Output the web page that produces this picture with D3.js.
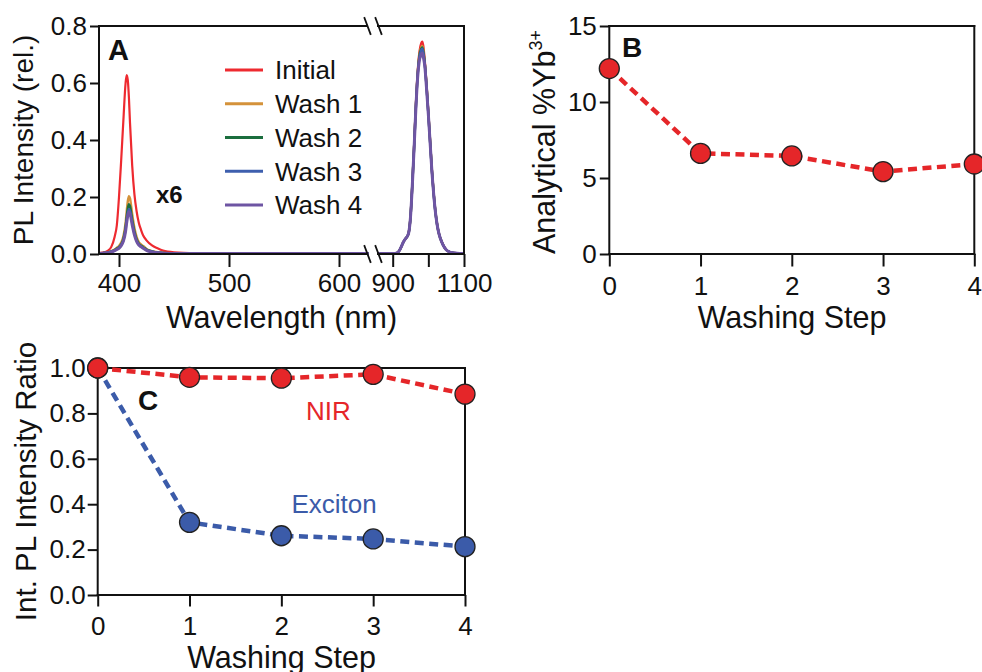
<!DOCTYPE html>
<html>
<head>
<meta charset="utf-8">
<script src="https://cdn.jsdelivr.net/npm/d3@7"></script>
<style>
  html, body { margin: 0; padding: 0; background: #fff; }
  svg { display: block; font-family: "Liberation Sans", Arial, sans-serif; }
  .tick text { font-size: 26px; fill: #111; }
</style>
</head>
<body>
<svg id="chart" width="982" height="672"></svg>
<script>
// ---------------- DATA ----------------
const seriesNames = ["Initial", "Wash 1", "Wash 2", "Wash 3", "Wash 4"];
const seriesColors = ["#ee2a30", "#d4923a", "#1b6e3e", "#3e5fae", "#6e55a3"];

// Panel A, visible band (wavelength in nm)
const wlVis = [382, 385, 390, 393, 396, 398, 400, 402, 404, 406, 407, 408, 409, 410, 412, 414, 416, 418, 420, 422, 425, 430, 435, 440, 450, 470, 500, 550, 600, 627];
const visInitial = [0.003, 0.005, 0.012, 0.025, 0.06, 0.10, 0.20, 0.33, 0.47, 0.60, 0.628, 0.61, 0.55, 0.46, 0.31, 0.21, 0.15, 0.11, 0.085, 0.065, 0.048, 0.03, 0.02, 0.012, 0.006, 0.003, 0.002, 0.002, 0.002, 0.002];
const visWash1 = [0.002, 0.003, 0.006, 0.010, 0.016, 0.022, 0.028, 0.040, 0.062, 0.110, 0.150, 0.185, 0.203, 0.195, 0.140, 0.092, 0.060, 0.042, 0.034, 0.028, 0.018, 0.010, 0.006, 0.004, 0.003, 0.002, 0.002, 0.002, 0.002, 0.002];
const visWash2 = [0.002, 0.003, 0.005, 0.009, 0.014, 0.019, 0.024, 0.034, 0.053, 0.095, 0.130, 0.160, 0.175, 0.168, 0.120, 0.079, 0.052, 0.036, 0.029, 0.024, 0.016, 0.009, 0.005, 0.004, 0.003, 0.002, 0.002, 0.002, 0.002, 0.002];
const visWash3 = [0.002, 0.003, 0.005, 0.008, 0.012, 0.017, 0.022, 0.031, 0.048, 0.086, 0.117, 0.144, 0.158, 0.152, 0.109, 0.072, 0.047, 0.033, 0.027, 0.022, 0.014, 0.008, 0.005, 0.003, 0.003, 0.002, 0.002, 0.002, 0.002, 0.002];
const visWash4 = [0.002, 0.003, 0.004, 0.007, 0.012, 0.016, 0.020, 0.029, 0.045, 0.080, 0.110, 0.135, 0.148, 0.142, 0.102, 0.067, 0.044, 0.031, 0.025, 0.020, 0.013, 0.007, 0.004, 0.003, 0.002, 0.002, 0.002, 0.002, 0.002, 0.002];

// Panel A, NIR band (wavelength in nm)
const wlNir = [858, 880, 900, 910, 915, 920, 925, 930, 935, 940, 945, 950, 955, 960, 965, 970, 975, 980, 983, 986, 990, 995, 1000, 1005, 1010, 1015, 1020, 1025, 1030, 1040, 1050, 1060, 1070, 1080, 1100];
const nirInitial = [0.002, 0.002, 0.002, 0.003, 0.006, 0.015, 0.028, 0.042, 0.052, 0.060, 0.076, 0.132, 0.245, 0.380, 0.525, 0.640, 0.710, 0.740, 0.745, 0.730, 0.680, 0.595, 0.500, 0.398, 0.296, 0.214, 0.148, 0.102, 0.071, 0.036, 0.015, 0.007, 0.004, 0.003, 0.002];
const nirWash1 = [0.002, 0.002, 0.002, 0.003, 0.006, 0.015, 0.028, 0.042, 0.052, 0.060, 0.075, 0.131, 0.243, 0.376, 0.519, 0.630, 0.700, 0.725, 0.730, 0.715, 0.670, 0.590, 0.495, 0.395, 0.294, 0.212, 0.147, 0.101, 0.070, 0.035, 0.015, 0.007, 0.004, 0.003, 0.002];
const nirWash2 = [0.002, 0.002, 0.002, 0.003, 0.006, 0.015, 0.028, 0.042, 0.052, 0.060, 0.075, 0.130, 0.242, 0.374, 0.516, 0.628, 0.695, 0.720, 0.725, 0.710, 0.668, 0.588, 0.493, 0.393, 0.292, 0.211, 0.146, 0.100, 0.070, 0.035, 0.015, 0.007, 0.004, 0.003, 0.002];
const nirWash3 = [0.002, 0.002, 0.002, 0.003, 0.006, 0.015, 0.028, 0.042, 0.052, 0.060, 0.075, 0.130, 0.241, 0.372, 0.513, 0.625, 0.690, 0.715, 0.720, 0.705, 0.665, 0.585, 0.491, 0.391, 0.291, 0.210, 0.145, 0.100, 0.070, 0.035, 0.015, 0.007, 0.004, 0.003, 0.002];
const nirWash4 = [0.002, 0.002, 0.002, 0.003, 0.006, 0.015, 0.028, 0.042, 0.052, 0.060, 0.075, 0.130, 0.240, 0.370, 0.510, 0.620, 0.680, 0.700, 0.705, 0.690, 0.660, 0.580, 0.490, 0.390, 0.290, 0.210, 0.145, 0.100, 0.070, 0.035, 0.015, 0.007, 0.004, 0.003, 0.002];

const aTicksVis = [400, 500, 600];
const aTicksNir = [900, 1000, 1100];
const aTickLabelsNir = ["900", "", "1100"];
const aTicksY = [0, 0.2, 0.4, 0.6, 0.8];

// Panel B
const washSteps = [0, 1, 2, 3, 4];
const ybPercent = [12.2, 6.62, 6.45, 5.42, 5.92];
const bTicksY = [0, 5, 10, 15];

// Panel C
const nirRatio = [1.0, 0.959, 0.955, 0.972, 0.885];
const excitonRatio = [1.0, 0.320, 0.261, 0.247, 0.213];
const cTicksY = [0, 0.2, 0.4, 0.6, 0.8, 1.0];

// ---------------- DRAW ----------------
const svg = d3.select("#chart");
const FONT = '"Liberation Sans", Arial, sans-serif';
const AXIS_W = 2;

function styleAxis(g) {
  g.select(".domain").remove();
  g.selectAll(".tick line").attr("stroke", "#111").attr("stroke-width", AXIS_W);
  g.selectAll(".tick text").style("font-family", FONT);
}
function line(x1, y1, x2, y2, w) {
  svg.append("line").attr("x1", x1).attr("y1", y1).attr("x2", x2).attr("y2", y2)
    .attr("stroke", "#111").attr("stroke-width", w || AXIS_W).attr("stroke-linecap", "square");
}
function text(x, y, s, size, opts) {
  opts = opts || {};
  const t = svg.append("text").attr("x", x).attr("y", y).text(s)
    .style("font-family", FONT).style("font-size", size + "px")
    .attr("fill", opts.fill || "#111")
    .attr("text-anchor", opts.anchor || "start");
  if (opts.bold) t.style("font-weight", "bold");
  if (opts.rotate) t.attr("transform", `rotate(-90, ${x}, ${y})`);
  return t;
}

// ===== Panel A =====
const aTop = 26, aBottom = 254;
const xVis = d3.scaleLinear().domain([381.82, 627.27]).range([99, 369]);
const xNir = d3.scaleLinear().domain([856, 1100]).range([377, 464]);
const yA = d3.scaleLinear().domain([0, 0.8]).range([aBottom, aTop]);

svg.append("defs").append("clipPath").attr("id", "clipA")
  .append("rect").attr("x", 99).attr("y", 0).attr("width", 366).attr("height", aBottom + 1);

const visSeries = [visInitial, visWash1, visWash2, visWash3, visWash4];
const nirSeries = [nirInitial, nirWash1, nirWash2, nirWash3, nirWash4];
const gA = svg.append("g").attr("clip-path", "url(#clipA)");
const lineVis = d3.line().x(d => xVis(d[0])).y(d => yA(d[1])).curve(d3.curveMonotoneX);
const lineNir = d3.line().x(d => xNir(d[0])).y(d => yA(d[1])).curve(d3.curveMonotoneX);
seriesNames.forEach((name, i) => {
  const w = i === 0 ? 2.2 : (i === 4 ? 3 : 2.4);
  gA.append("path").datum(wlVis.map((wl, j) => [wl, visSeries[i][j]]))
    .attr("d", lineVis).attr("fill", "none").attr("stroke", seriesColors[i])
    .attr("stroke-width", w).attr("stroke-linejoin", "round");
  gA.append("path").datum(wlNir.map((wl, j) => [wl, nirSeries[i][j]]))
    .attr("d", lineNir).attr("fill", "none").attr("stroke", seriesColors[i])
    .attr("stroke-width", w).attr("stroke-linejoin", "round");
});

// Axes A
svg.append("g").attr("transform", `translate(0,${aBottom})`)
  .call(d3.axisBottom(xVis).tickValues(aTicksVis).tickSize(13).tickPadding(7).tickFormat(d3.format("d")))
  .call(styleAxis);
svg.append("g").attr("transform", `translate(0,${aBottom})`)
  .call(d3.axisBottom(xNir).tickValues(aTicksNir).tickSize(13).tickPadding(7).tickFormat((d, i) => aTickLabelsNir[i]))
  .call(styleAxis);
svg.append("g").attr("transform", `translate(99,0)`)
  .call(d3.axisLeft(yA).tickValues(aTicksY).tickSize(9).tickPadding(3).tickFormat(d3.format(".1f")))
  .call(styleAxis);

// Frame with break
const brkL = xVis.range()[1] - 2, brkR = xNir.range()[0] + 1;
[aTop, aBottom].forEach(yy => {
  line(99, yy, brkL, yy);
  line(brkR, yy, 464, yy);
  const c = (brkL + brkR) / 2;
  line(c - 8, yy - 8, c - 2, yy + 8, 1.8);
  line(c + 3, yy - 8, c + 9, yy + 8, 1.8);
});
line(99, aTop, 99, aBottom);
line(464, aTop, 464, aBottom);

// Legend
seriesNames.forEach((name, i) => {
  const ly = 70 + i * 33.75;
  svg.append("line").attr("x1", 225).attr("x2", 263).attr("y1", ly).attr("y2", ly)
    .attr("stroke", seriesColors[i]).attr("stroke-width", 3);
  text(275, ly, name, 26).attr("dy", "0.36em");
});

text(108, 60, "A", 29, { bold: true });
text(156, 203, "x6", 24, { bold: true });
text(33, (aTop + aBottom) / 2, "PL Intensity (rel.)", 28, { anchor: "middle", rotate: true });
text(281.5, 328, "Wavelength (nm)", 30.5, { anchor: "middle" });

// ===== Panel B =====
const bLeft = 609.3, bRight = 974.3, bTop = 26, bBottom = 254;
const xB = d3.scaleLinear().domain([0, 4]).range([bLeft, bRight]);
const yB = d3.scaleLinear().domain([0, 15]).range([bBottom, bTop]);
svg.append("g").attr("transform", `translate(0,${bBottom})`)
  .call(d3.axisBottom(xB).tickValues(washSteps).tickSize(12.5).tickPadding(10).tickFormat(d3.format("d")))
  .call(styleAxis);
svg.append("g").attr("transform", `translate(${bLeft},0)`)
  .call(d3.axisLeft(yB).tickValues(bTicksY).tickSize(9.5).tickPadding(3).tickFormat(d3.format("d")))
  .call(styleAxis);
line(bLeft, bTop, bRight, bTop);
line(bRight, bTop, bRight, bBottom);
line(bLeft, bTop, bLeft, bBottom);
line(bLeft, bBottom, bRight, bBottom);

svg.append("path").datum(washSteps.map((s, i) => [s, ybPercent[i]]))
  .attr("d", d3.line().x(d => xB(d[0])).y(d => yB(d[1])))
  .attr("fill", "none").attr("stroke", "#e52629").attr("stroke-width", 4.5)
  .attr("stroke-dasharray", "9,5.5");
svg.selectAll(".ptB").data(washSteps).enter().append("circle")
  .attr("cx", d => xB(d)).attr("cy", (d, i) => yB(ybPercent[i])).attr("r", 10)
  .attr("fill", "#e52629").attr("stroke", "#222").attr("stroke-width", 1.3);

text(622, 57, "B", 28, { bold: true });
const bt = text(555, (bTop + bBottom) / 2 + 2, "Analytical %Yb", 30.5, { anchor: "middle", rotate: true });
bt.append("tspan").text("3+").style("font-size", "18px").attr("dy", "-13");

text(792, 328, "Washing Step", 30.5, { anchor: "middle" });

// ===== Panel C =====
const cLeft = 97.7, cRight = 465, cTop = 368, cBottom = 595;
const xC = d3.scaleLinear().domain([0, 4]).range([cLeft, cRight]);
const yC = d3.scaleLinear().domain([0, 1]).range([cBottom, cTop]);
svg.append("g").attr("transform", `translate(0,${cBottom})`)
  .call(d3.axisBottom(xC).tickValues(washSteps).tickSize(11.5).tickPadding(10).tickFormat(d3.format("d")))
  .call(styleAxis);
svg.append("g").attr("transform", `translate(${cLeft},0)`)
  .call(d3.axisLeft(yC).tickValues(cTicksY).tickSize(10).tickPadding(2).tickFormat(d3.format(".1f")))
  .call(styleAxis);
line(cLeft, cTop, cRight, cTop);
line(cRight, cTop, cRight, cBottom);
line(cLeft, cTop, cLeft, cBottom);
line(cLeft, cBottom, cRight, cBottom);

const lineC = d3.line().x(d => xC(d[0])).y(d => yC(d[1]));
[[excitonRatio, "#3b5ba9"], [nirRatio, "#e52629"]].forEach(([vals, col]) => {
  svg.append("path").datum(washSteps.map((s, i) => [s, vals[i]]))
    .attr("d", lineC).attr("fill", "none").attr("stroke", col).attr("stroke-width", 4.5)
    .attr("stroke-dasharray", "9,5.5");
});
[[excitonRatio, "#3b5ba9"], [nirRatio, "#e52629"]].forEach(([vals, col]) => {
  svg.append("g").selectAll("circle").data(washSteps).enter().append("circle")
    .attr("cx", d => xC(d)).attr("cy", (d, i) => yC(vals[i])).attr("r", 10)
    .attr("fill", col).attr("stroke", "#222").attr("stroke-width", 1.3);
});

text(138, 410, "C", 28, { bold: true });
text(306, 420, "NIR", 26, { fill: "#e52629" });
text(291.5, 513, "Exciton", 26, { fill: "#3b5ba9" });
text(36, (cTop + cBottom) / 2, "Int. PL Intensity Ratio", 29.5, { anchor: "middle", rotate: true });
text(281.5, 668, "Washing Step", 30.5, { anchor: "middle" });
</script>
</body>
</html>
